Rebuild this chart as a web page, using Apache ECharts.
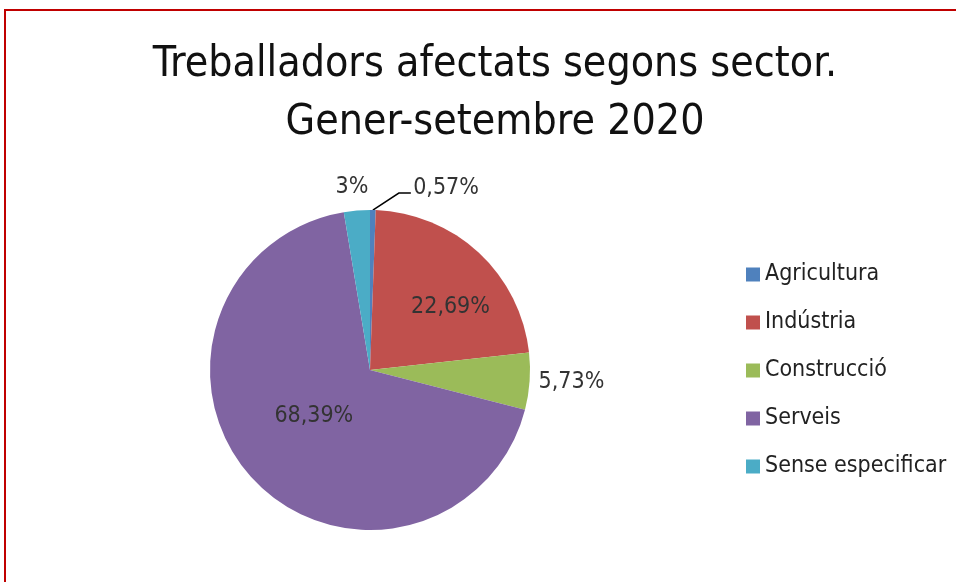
<!DOCTYPE html>
<html>
<head>
<meta charset="utf-8">
<script src="https://cdn.jsdelivr.net/npm/echarts@6/dist/echarts.min.js"></script>
<style>
  html, body { margin: 0; padding: 0; background: #fff; }
  #chart { width: 956px; height: 582px; }
</style>
</head>
<body>
<div id="chart"></div>
<script>
// -- Data --
const sectors = ['Agricultura', 'Indústria', 'Construcció', 'Serveis', 'Sense especificar'];
const shares = [0.57, 22.69, 5.73, 68.39, 2.62];
const shareLabels = ['0,57%', '22,69%', '5,73%', '68,39%', '3%'];

// Office-style palette
const COLORS = ['#4f81bd', '#c0504d', '#9bbb59', '#8064a2', '#4bacc6'];
const FONT = '"Liberation Sans Narrow", "DejaVu Sans Condensed", Roboto, sans-serif';

// per-slice label placement
const labelPos = ['outside', 'inside', 'outside', 'inside', 'outside'];
const showLine = [true, false, false, false, false];

const chart = echarts.init(document.getElementById('chart'), null, { renderer: 'canvas' });

chart.setOption({
  backgroundColor: '#fff',
  animation: false,
  color: COLORS,
  title: {
    text: 'Treballadors afectats segons sector.\nGener-setembre 2020',
    left: 490,
    top: 31,
    textAlign: 'center',
    textStyle: {
      fontFamily: FONT,
      fontWeight: 300,
      fontSize: 42.5,
      lineHeight: 58,
      color: '#111'
    }
  },
  legend: {
    orient: 'vertical',
    left: 741,
    top: 258,
    itemWidth: 14,
    itemHeight: 14,
    itemGap: 25,
    icon: 'rect',
    textStyle: { fontFamily: FONT, fontSize: 23, color: '#222' },
    data: sectors
  },
  graphic: [{
    type: 'rect',
    shape: { x: 5, y: 10, width: 1000, height: 700 },
    style: { fill: 'none', stroke: '#c00000', lineWidth: 2 },
    silent: true
  }],
  series: [{
    type: 'pie',
    center: [370, 370],
    radius: 160,
    startAngle: 90,
    clockwise: true,
    avoidLabelOverlap: false,
    itemStyle: { borderWidth: 0 },
    label: {
      fontFamily: FONT,
      fontSize: 23,
      color: '#333'
    },
    labelLine: { lineStyle: { color: '#000', width: 1.5 } },
    data: sectors.map((name, i) => ({
      name,
      value: shares[i],
      label: { show: true, position: labelPos[i], formatter: shareLabels[i] },
      labelLine: { show: showLine[i], length: i === 2 ? 4 : 18, length2: i === 2 ? 0 : 12 }
    })),
    labelLayout: function (p) {
      if (p.dataIndex === 0 && p.labelLinePoints) {
        // bend the leader line up and to the right, like the original
        const s = p.labelLinePoints[0];
        return {
          dx: 23,
          dy: -4,
          labelLinePoints: [s, [s[0] + 26, s[1] - 17], [s[0] + 38, s[1] - 17]]
        };
      }
      const shift = [
        null,
        { dx: 24, dy: -2 },
        { dx: 0, dy: 0 },
        { dx: 5, dy: -10 },
        { dx: 30, dy: -6 }
      ];
      return shift[p.dataIndex];
    }
  }]
});

window.addEventListener('resize', () => chart.resize());
</script>
</body>
</html>
